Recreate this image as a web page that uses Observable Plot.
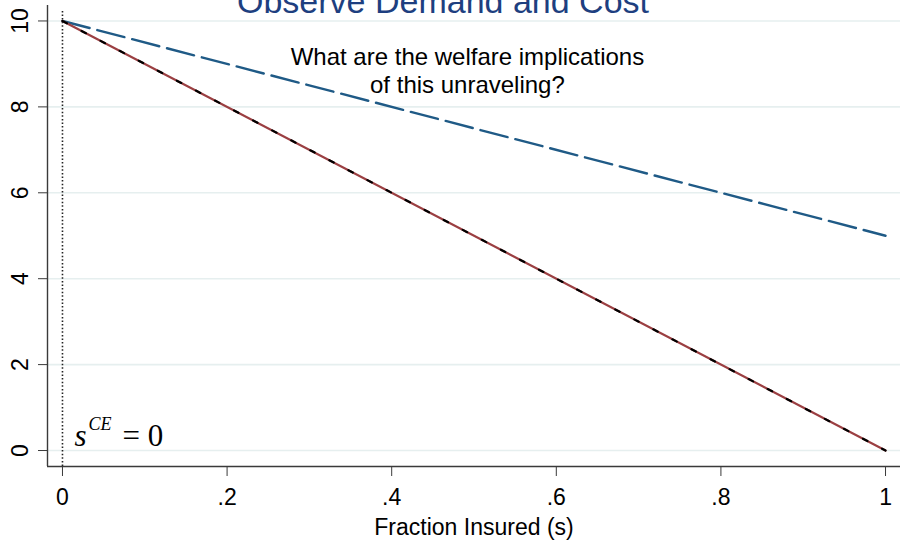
<!DOCTYPE html>
<html>
<head>
<meta charset="utf-8">
<script src="https://cdn.jsdelivr.net/npm/d3@7"></script>
<script src="https://cdn.jsdelivr.net/npm/@observablehq/plot@0.6"></script>
<style>
  html, body { margin: 0; padding: 0; background: #fff; }
  svg { overflow: visible; display: block; }
</style>
</head>
<body>
<div id="chart"></div>
<script>
// ---- data ----
const title = "Observe Demand and Cost";
const xLabel = "Fraction Insured (s)";
const note = "What are the welfare implications\nof this unraveling?";
const xTicks = [0, 0.2, 0.4, 0.6, 0.8, 1];
const xTickLabels = ["0", ".2", ".4", ".6", ".8", "1"];
const yTicks = [0, 2, 4, 6, 8, 10];
const share = [0, 1];
const demand = [10, 5];
const cost = [10, 0];
const avgCost = [10, 0];
const ceShare = [0];          // competitive equilibrium s^CE = 0
const noteAt = [{x: 0.492, y: 9.45}];

// ---- scale config ----
const xDomain = [-0.0182, 1.0182];
const yDomain = [-0.372, 10.36];

const rows = share.map((s, i) => ({s, demand: demand[i], cost: cost[i], avg: avgCost[i]}));

const sans = "'Liberation Sans', Arial, Helvetica, sans-serif";
const serif = "'Liberation Serif', 'Times New Roman', serif";
const axisColor = "#3a3a3a";

const chart = Plot.plot({
  width: 900,
  height: 541,
  marginLeft: 47,
  marginRight: 0,
  marginTop: 5,
  marginBottom: 75,
  x: {domain: xDomain},
  y: {domain: yDomain},
  style: {fontFamily: sans, background: "#fff", color: "#000", overflow: "visible"},
  marks: [
    Plot.ruleY(yTicks, {stroke: "#e6efef", strokeWidth: 1.6}),
    Plot.ruleX(ceShare, {y1: yDomain[0], y2: 10.26, stroke: "#222", strokeWidth: 1.6, strokeDasharray: "1.5,2.1"}),
    Plot.line(rows, {x: "s", y: "demand", stroke: "#1f5a86", strokeWidth: 2.4, strokeDasharray: "28,8"}),
    Plot.line(rows, {x: "s", y: "cost", stroke: "#9b3f42", strokeWidth: 2.2}),
    Plot.line(rows, {x: "s", y: "avg", stroke: "#000", strokeWidth: 2.2, strokeDasharray: "5,16.5"}),
    Plot.ruleX([xDomain[0]], {stroke: axisColor, strokeWidth: 1.4}),
    Plot.ruleY([yDomain[0]], {stroke: axisColor, strokeWidth: 1.4}),
    Plot.axisX({ticks: xTicks, tickSize: 10, tickPadding: 12, stroke: axisColor, fill: "#000",
      tickFormat: d => xTickLabels[xTicks.indexOf(d)], fontSize: 23, label: null}),
    Plot.axisY({ticks: yTicks, tickSize: 9, stroke: axisColor, tickFormat: () => "", label: null}),
    Plot.text(yTicks, {y: d => d, frameAnchor: "left", dx: -27, rotate: -90, text: d => String(d),
      fontSize: 23, textAnchor: "middle", lineAnchor: "middle", fill: "#000"}),
    Plot.text([xLabel], {frameAnchor: "bottom", dy: 61, text: d => d, fontSize: 23, lineAnchor: "middle", fill: "#000"}),
    Plot.text([title], {frameAnchor: "top", dx: -31, dy: -3, text: d => d, fontSize: 34, lineAnchor: "middle", fill: "#1e3f80"}),
    Plot.text(noteAt, {x: "x", y: "y", text: () => note, fontSize: 24, lineAnchor: "top", lineHeight: 1.17, textAnchor: "middle", fill: "#000"}),
    Plot.text(ceShare, {x: d => d, y: () => 0, text: () => "s", fontFamily: serif, fontStyle: "italic", fontSize: 31,
      textAnchor: "start", lineAnchor: "middle", dx: 12, dy: -14.9, fill: "#000"}),
    Plot.text(ceShare, {x: d => d, y: () => 0, text: () => "CE", fontFamily: serif, fontStyle: "italic", fontSize: 18,
      textAnchor: "start", lineAnchor: "middle", dx: 26, dy: -25.8, fill: "#000"}),
    Plot.text(ceShare, {x: d => d, y: () => 0, text: d => "= " + d, fontFamily: serif, fontSize: 31,
      textAnchor: "start", lineAnchor: "middle", dx: 60, dy: -14.9, fill: "#000"})
  ]
});
document.getElementById("chart").appendChild(chart);
</script>
</body>
</html>
